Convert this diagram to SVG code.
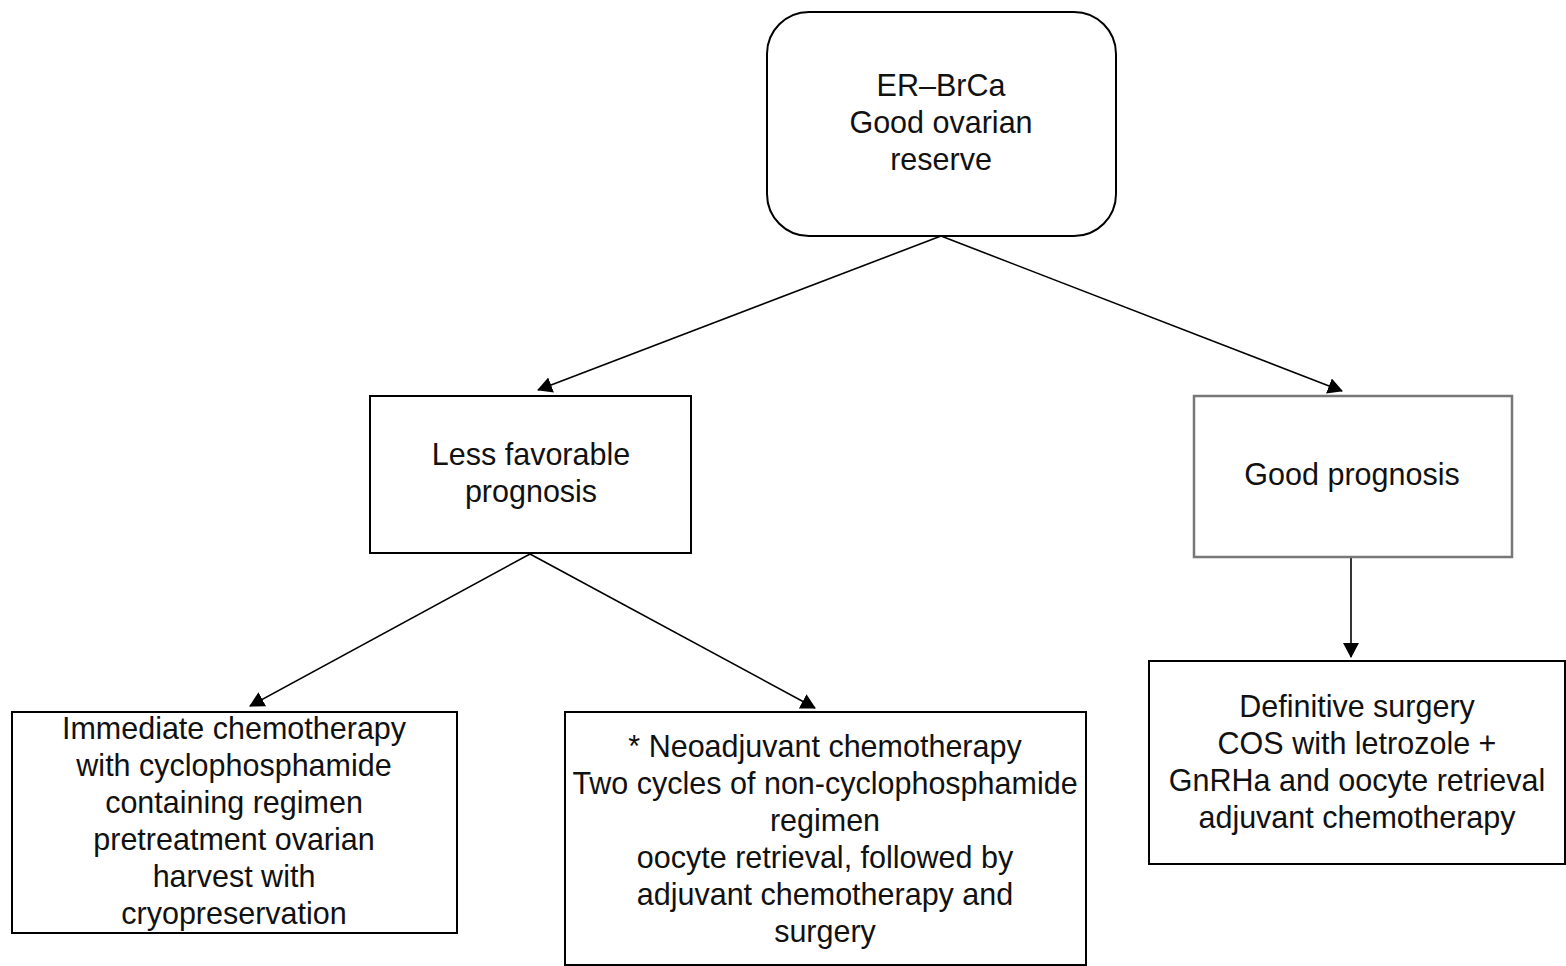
<svg xmlns="http://www.w3.org/2000/svg" width="1566" height="966" viewBox="0 0 1566 966">
<defs>
<marker id="ah" markerWidth="16" markerHeight="16" refX="14" refY="8" orient="auto" markerUnits="userSpaceOnUse">
<path d="M0,0 L15,8 L0,16 Z" fill="#000"/>
</marker>
<style>
.box{fill:#fff;stroke:#000;stroke-width:2}
.gbox{fill:#fff;stroke:#777;stroke-width:2.5}
.t{font-family:"Liberation Sans",Arial,sans-serif;font-size:30.5px;fill:#111;text-anchor:middle}
.c{stroke:#000;stroke-width:1.6;fill:none;marker-end:url(#ah)}
</style>
</defs>
<rect width="1566" height="966" fill="#fff"/>
<g id="connectors">
<line class="c" x1="941" y1="236" x2="538" y2="390"/>
<line class="c" x1="941" y1="236" x2="1342" y2="391"/>
<line class="c" x1="530" y1="554" x2="250" y2="706"/>
<line class="c" x1="530" y1="554" x2="815" y2="708"/>
<line class="c" x1="1351" y1="557" x2="1351" y2="657"/>
</g>
<g id="n-root">
<rect class="box" x="767" y="12" width="349" height="224" rx="42" ry="42"/>
<text class="t" x="941" y="96">ER–BrCa</text>
<text class="t" x="941" y="133">Good ovarian</text>
<text class="t" x="941" y="170">reserve</text>
</g>
<g id="n-less">
<rect class="box" x="370" y="396" width="321" height="157"/>
<text class="t" x="531" y="465">Less favorable</text>
<text class="t" x="531" y="502">prognosis</text>
</g>
<g id="n-good">
<rect class="gbox" x="1194" y="396" width="318" height="161"/>
<text class="t" x="1352" y="485">Good prognosis</text>
</g>
<g id="n-immediate">
<rect class="box" x="12" y="712" width="445" height="221"/>
<text class="t" x="234" y="739">Immediate chemotherapy</text>
<text class="t" x="234" y="776">with cyclophosphamide</text>
<text class="t" x="234" y="813">containing regimen</text>
<text class="t" x="234" y="850">pretreatment ovarian</text>
<text class="t" x="234" y="887">harvest with</text>
<text class="t" x="234" y="924">cryopreservation</text>
</g>
<g id="n-neo">
<rect class="box" x="565" y="712" width="521" height="253"/>
<text class="t" x="825" y="757">* Neoadjuvant chemotherapy</text>
<text class="t" x="825" y="794">Two cycles of non-cyclophosphamide</text>
<text class="t" x="825" y="831">regimen</text>
<text class="t" x="825" y="868">oocyte retrieval, followed by</text>
<text class="t" x="825" y="905">adjuvant chemotherapy and</text>
<text class="t" x="825" y="942">surgery</text>
</g>
<g id="n-definitive">
<rect class="box" x="1149" y="661" width="416" height="203"/>
<text class="t" x="1357" y="717">Definitive surgery</text>
<text class="t" x="1357" y="754">COS with letrozole +</text>
<text class="t" x="1357" y="791">GnRHa and oocyte retrieval</text>
<text class="t" x="1357" y="828">adjuvant chemotherapy</text>
</g>
</svg>
